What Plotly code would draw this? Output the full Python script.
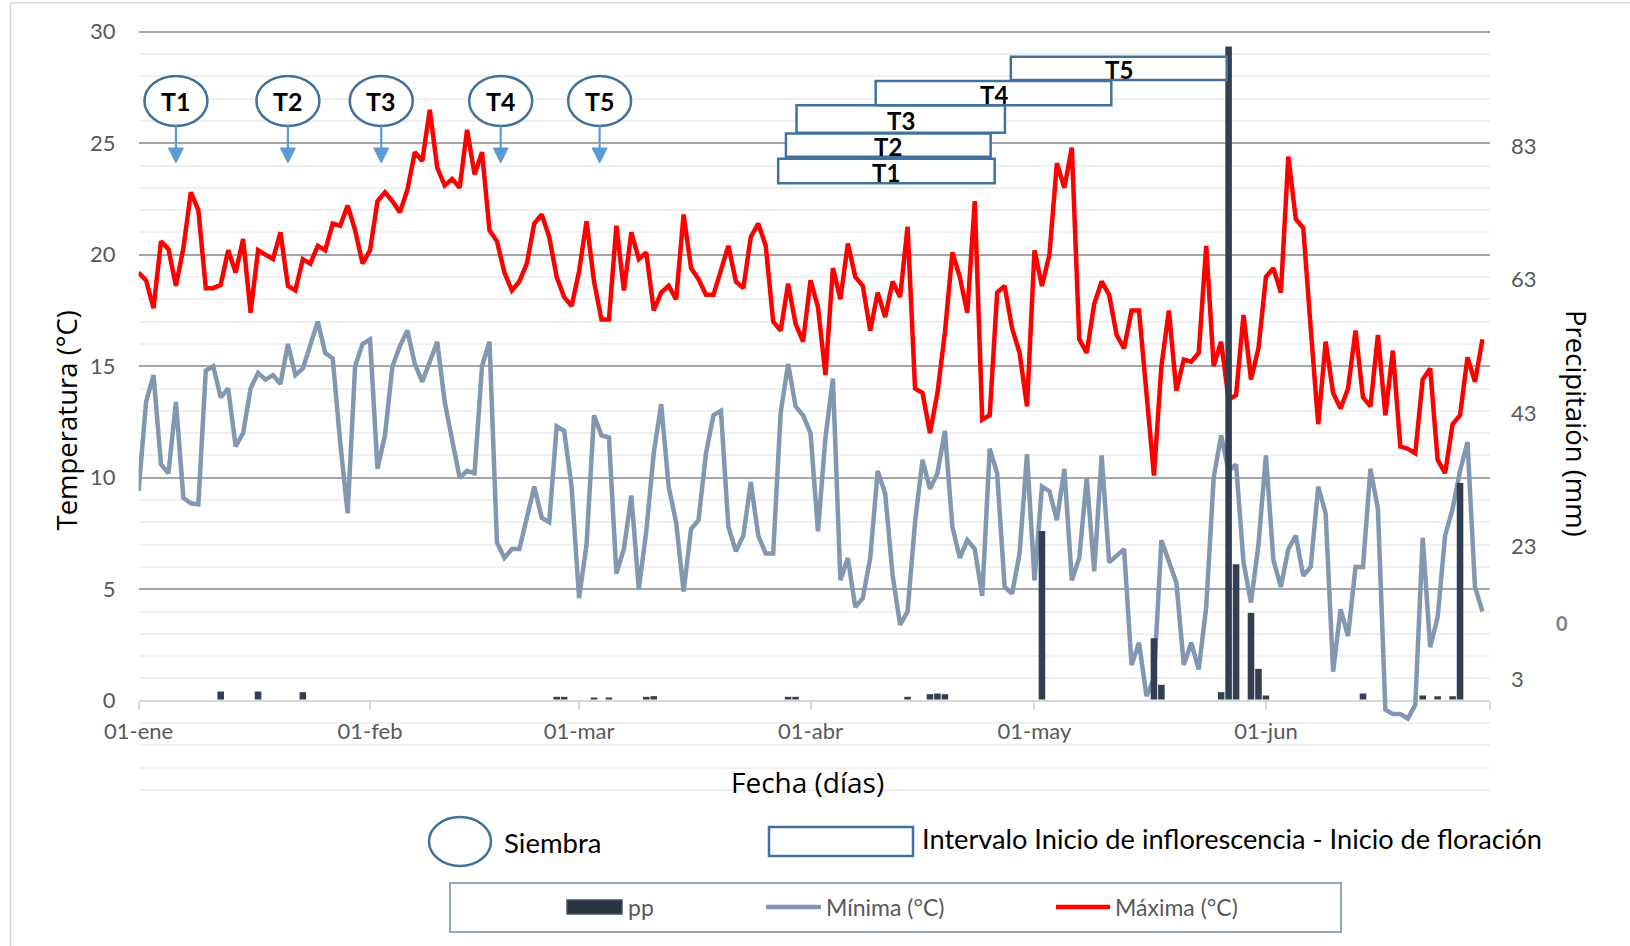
import pandas as pd
import plotly.graph_objects as go

W, H = 1630, 946

# ---------------- data ----------------
fechas = pd.date_range("2015-01-01", "2015-06-30", freq="D")

maxima_ene = [19.2, 18.85, 17.6, 20.6, 20.25, 18.6, 20.3, 22.8, 22.0, 18.5, 18.5, 18.65, 20.2, 19.2, 20.7,
              17.4, 20.2, 20.0, 19.8, 21.0, 18.6, 18.4, 19.8, 19.6, 20.4, 20.2, 21.4, 21.3, 22.2, 21.1, 19.6]
maxima_feb = [20.2, 22.4, 22.8, 22.4, 21.9, 22.9, 24.6, 24.2, 26.5, 23.9, 23.1, 23.4, 23.0, 25.6, 23.6,
              24.6, 21.1, 20.6, 19.2, 18.4, 18.8, 19.6, 21.4, 21.8, 20.8, 19.0, 18.1, 17.7]
maxima_mar = [19.25, 21.5, 18.8, 17.1, 17.1, 21.3, 18.4, 21.0, 19.8, 20.1, 17.5, 18.3, 18.6, 18.0, 21.8,
              19.4, 18.9, 18.2, 18.2, 19.3, 20.4, 18.8, 18.5, 20.8, 21.4, 20.4, 17.0, 16.6, 18.7, 16.9, 16.1]
maxima_abr = [18.85, 17.65, 14.6, 19.4, 18.0, 20.5, 19.0, 18.6, 16.6, 18.3, 17.2, 18.8, 18.1, 21.25, 14.0,
              13.8, 12.0, 13.8, 16.5, 20.1, 19.0, 17.4, 22.4, 12.6, 12.8, 18.3, 18.6, 16.7, 15.6, 13.2]
maxima_may = [20.2, 18.6, 20.0, 24.1, 23.0, 24.8, 16.2, 15.6, 17.8, 18.8, 18.2, 16.4, 15.8, 17.5, 17.5,
              13.7, 10.1, 15.0, 17.5, 13.9, 15.3, 15.2, 15.6, 20.4, 15.0, 16.1, 13.5, 13.7, 17.3, 14.4, 15.8]
maxima_jun = [19.0, 19.4, 18.3, 24.4, 21.6, 21.2, 16.7, 12.4, 16.1, 13.8, 13.1, 14.0, 16.6, 13.6, 13.2,
              16.4, 12.8, 15.7, 11.4, 11.3, 11.1, 14.4, 14.9, 10.8, 10.2, 12.4, 12.8, 15.4, 14.3, 16.2]

minima_ene = [9.4, 13.4, 14.6, 10.6, 10.2, 13.4, 9.1, 8.85, 8.8, 14.8, 15.0, 13.6, 14.0, 11.4, 12.0,
              14.0, 14.7, 14.4, 14.6, 14.2, 16.0, 14.6, 14.9, 16.0, 17.0, 15.6, 15.35, 11.6, 8.4, 15.0, 16.0]
minima_feb = [16.2, 10.4, 11.9, 15.0, 15.9, 16.6, 15.1, 14.3, 15.2, 16.1, 13.4, 11.7, 10.0, 10.3, 10.2,
              15.0, 16.1, 7.1, 6.4, 6.8, 6.8, 8.2, 9.6, 8.2, 8.0, 12.3, 12.1, 9.6]
minima_mar = [4.6, 7.0, 12.8, 11.9, 11.8, 5.7, 6.8, 9.2, 5.0, 7.6, 11.1, 13.3, 9.6, 8.0, 4.9,
              7.7, 8.1, 11.1, 12.8, 13.0, 7.8, 6.7, 7.4, 9.8, 7.4, 6.6, 6.6, 12.9, 15.1, 13.2, 12.8]
minima_abr = [12.0, 7.6, 11.8, 14.45, 5.4, 6.4, 4.2, 4.6, 6.4, 10.3, 9.3, 5.6, 3.4, 4.0, 8.0,
              10.8, 9.5, 10.2, 12.1, 7.8, 6.4, 7.2, 6.8, 4.7, 11.3, 10.2, 5.1, 4.8, 6.6, 11.05]
minima_may = [5.4, 9.6, 9.4, 8.1, 10.4, 5.4, 6.4, 10.0, 5.8, 11.0, 6.2, 6.5, 6.8, 1.6, 2.6,
              0.2, 1.0, 7.2, 6.2, 5.3, 1.6, 2.6, 1.4, 4.2, 10.0, 11.9, 10.3, 10.6, 6.2, 4.4, 7.0]
minima_jun = [11.0, 6.3, 5.1, 6.8, 7.4, 5.6, 6.0, 9.6, 8.4, 1.3, 4.1, 2.9, 6.0, 6.0, 10.4,
              8.6, -0.4, -0.6, -0.6, -0.8, -0.2, 7.3, 2.4, 3.75, 7.4, 8.6, 10.3, 11.6, 5.1, 4.0]

maxima = maxima_ene + maxima_feb + maxima_mar + maxima_abr + maxima_may + maxima_jun
minima = minima_ene + minima_feb + minima_mar + minima_abr + minima_may + minima_jun

# daily rainfall (mm); days without rain are omitted
pp_fechas = ["2015-01-12", "2015-01-17", "2015-01-23", "2015-02-26", "2015-02-27", "2015-03-03",
             "2015-03-05", "2015-03-10", "2015-03-11", "2015-03-29", "2015-03-30", "2015-04-14",
             "2015-04-17", "2015-04-18", "2015-04-19", "2015-05-02", "2015-05-17", "2015-05-18",
             "2015-05-26", "2015-05-27", "2015-05-28", "2015-05-30", "2015-05-31", "2015-06-01",
             "2015-06-14", "2015-06-22", "2015-06-24", "2015-06-26", "2015-06-27"]
pp_mm = [1.2, 1.2, 1.1, 0.4, 0.4, 0.3,
         0.3, 0.4, 0.5, 0.4, 0.4, 0.4,
         0.8, 0.9, 0.8, 25.3, 9.2, 2.2,
         1.1, 98.0, 20.3, 13.0, 4.6, 0.6,
         0.9, 0.6, 0.5, 0.5, 32.5]

tratamientos = ["T1", "T2", "T3", "T4", "T5"]
siembra = ["2015-01-06", "2015-01-21", "2015-02-02 12:00", "2015-02-18 12:00", "2015-03-03 18:00"]
inflorescencia_inicio = ["2015-03-27 16:00", "2015-03-28 17:00", "2015-03-30 03:00",
                         "2015-04-09 17:30", "2015-04-27 20:00"]
floracion_inicio = ["2015-04-25 16:00", "2015-04-25 03:00", "2015-04-27 01:00",
                    "2015-05-11 07:00", "2015-05-26 18:00"]

x_tickvals = ["2015-01-01", "2015-02-01", "2015-03-01", "2015-04-01", "2015-05-01", "2015-06-01", "2015-07-01"]
x_ticktext = ["01-ene", "01-feb", "01-mar", "01-abr", "01-may", "01-jun", ""]
pp_tickvals = [3, 23, 43, 63, 83]

# ---------------- geometry ----------------
PX_LEFT, PX_RIGHT = 138.6, 1489.9      # plot area, horizontal pixels
T0_PX, PX_PER_C = 700.7, 22.3           # 0 °C row and scale
MM0_PX, PX_PER_MM = 699.5, 6.6625       # 0 mm row and scale
T_MIN, T_MAX = -4.05, 30.05

def t_px(t):
    return T0_PX - PX_PER_C * t

top_px, bot_px = t_px(T_MAX), t_px(T_MIN)
mm_range = [(MM0_PX - bot_px) / PX_PER_MM, (MM0_PX - top_px) / PX_PER_MM]

def fx(x):
    return x / W

def fy(y):
    return 1 - y / H

BLUE_EDGE = "#41719C"
ARROW = "#5B9BD5"
GRAY_TXT = "#595959"
TICK_FONT = dict(family="Lato", size=22, color=GRAY_TXT)

fig = go.Figure()
fig.add_trace(go.Scatter(x=fechas, y=minima, mode="lines", name="Mínima (°C)",
                         line=dict(color="#8497B0", width=4.5)))
fig.add_trace(go.Scatter(x=fechas, y=maxima, mode="lines", name="Máxima (°C)",
                         line=dict(color="#FF0000", width=4.5)))
fig.add_trace(go.Bar(x=pd.to_datetime(pp_fechas), y=pp_mm, name="pp", yaxis="y2",
                     width=0.88 * 86400000, marker=dict(color="#333F50", line=dict(width=0))))

fig.update_layout(
    width=W, height=H, margin=dict(l=0, r=0, t=0, b=0, autoexpand=False),
    paper_bgcolor="white", plot_bgcolor="white", showlegend=False,
    xaxis=dict(type="date", domain=[fx(PX_LEFT), fx(PX_RIGHT)], automargin=False,
               range=["2015-01-01", "2015-07-01"],
               tickmode="array", tickvals=x_tickvals, ticktext=x_ticktext,
               ticks="outside", ticklen=8, tickwidth=2, tickcolor="#D9D9D9",
               showgrid=False, showline=False, zeroline=False,
               anchor="free", position=fy(T0_PX),
               tickfont=TICK_FONT, ticklabelstandoff=3),
    yaxis=dict(domain=[fy(bot_px), fy(top_px)], range=[T_MIN, T_MAX], automargin=False,
               tickmode="linear", tick0=0, dtick=5,
               showgrid=True, gridcolor="#A6A6A6", gridwidth=2,
               zeroline=True, zerolinecolor="#D9D9D9", zerolinewidth=2,
               minor=dict(tickmode="linear", tick0=0, dtick=1, showgrid=True,
                          gridcolor="#F0F0F0", gridwidth=2, ticks=""),
               ticks="", showline=False, tickfont=TICK_FONT, ticklabelstandoff=22),
    yaxis2=dict(overlaying="y", side="right", range=mm_range, automargin=False,
                tickmode="array", tickvals=pp_tickvals,
                showgrid=False, zeroline=False, showline=False, ticks="",
                tickfont=TICK_FONT, ticklabelstandoff=20),
)

shapes = []
annotations = []

# sowing markers: ellipse, label and arrow
ELL_T = (T0_PX - 101) / PX_PER_C
for lab, fecha in zip(tratamientos, siembra):
    shapes.append(dict(type="circle", xref="x", yref="y", xsizemode="pixel", ysizemode="pixel",
                       xanchor=fecha, yanchor=ELL_T, x0=-31.5, x1=31.5, y0=-25, y1=25,
                       line=dict(color=BLUE_EDGE, width=2.5), fillcolor="white", layer="above"))
    shapes.append(dict(type="line", xref="x", yref="y", xsizemode="pixel", xanchor=fecha,
                       x0=0, x1=0, y0=(T0_PX - 126) / PX_PER_C, y1=(T0_PX - 150) / PX_PER_C,
                       line=dict(color=ARROW, width=2.2), layer="above"))
    y_base = (T0_PX - 148) / PX_PER_C
    y_tip = (T0_PX - 163) / PX_PER_C
    shapes.append(dict(type="path", xref="x", yref="y", xsizemode="pixel", xanchor=fecha,
                       path=f"M -7.5,{y_base} L 7.5,{y_base} L 0,{y_tip} Z",
                       fillcolor=ARROW, line=dict(color=ARROW, width=1), layer="above"))
    annotations.append(dict(x=fecha, y=ELL_T, xref="x", yref="y", text=f"<b>{lab}</b>",
                            showarrow=False, font=dict(family="Lato", size=25, color="black")))

# interval boxes: start of inflorescence to start of flowering
box_rows = [(23.20, 24.30), (24.39, 25.44), (25.47, 26.70), (26.70, 27.79), (27.83, 28.88)]
for lab, a, b, (y0, y1) in zip(tratamientos, inflorescencia_inicio, floracion_inicio, box_rows):
    shapes.append(dict(type="rect", xref="x", yref="y", x0=a, x1=b, y0=y0, y1=y1,
                       line=dict(color=BLUE_EDGE, width=2.5), fillcolor="white", layer="above"))
    ta, tb = pd.Timestamp(a), pd.Timestamp(b)
    mid = ta + (tb - ta) / 2
    annotations.append(dict(x=mid, y=(y0 + y1) / 2 - 0.05, xref="x", yref="y", text=f"<b>{lab}</b>",
                            showarrow=False, height=20, borderpad=0, valign="middle",
                            font=dict(family="Lato", size=24, color="black")))

def paper_rect(x0, y0, x1, y1, **kw):
    d = dict(type="rect", xref="paper", yref="paper", x0=fx(x0), x1=fx(x1), y0=fy(y1), y1=fy(y0))
    d.update(kw)
    return d

# chart frame (left and top edges)
shapes.append(dict(type="line", xref="paper", yref="paper", x0=fx(10.5), x1=fx(10.5), y0=0, y1=fy(2.7),
                   line=dict(color="#D9D9D9", width=1.5)))
shapes.append(dict(type="line", xref="paper", yref="paper", x0=fx(10.5), x1=1, y0=fy(2.7), y1=fy(2.7),
                   line=dict(color="#D9D9D9", width=1.5)))

# key for the drawn markers
shapes.append(dict(type="circle", xref="paper", yref="paper", x0=fx(429), x1=fx(491), y0=fy(866), y1=fy(817),
                   line=dict(color=BLUE_EDGE, width=2.5), fillcolor="white"))
shapes.append(paper_rect(769, 827, 913, 856, line=dict(color=BLUE_EDGE, width=2.5), fillcolor="white"))

# series legend box
shapes.append(paper_rect(450, 883, 1341, 932, line=dict(color="#95A5BC", width=2), fillcolor="rgba(0,0,0,0)"))
shapes.append(paper_rect(567, 900, 622, 914, line=dict(color="#44546A", width=1.5), fillcolor="#2B3340"))
shapes.append(dict(type="line", xref="paper", yref="paper", x0=fx(766), x1=fx(821), y0=fy(907), y1=fy(907),
                   line=dict(color="#8497B0", width=4.5)))
shapes.append(dict(type="line", xref="paper", yref="paper", x0=fx(1056), x1=fx(1110), y0=fy(907), y1=fy(907),
                   line=dict(color="#FF0000", width=4.5)))

def text_at(x, y, text, size, color="black", family="Lato", xanchor="center", angle=0):
    annotations.append(dict(x=fx(x), y=fy(y), xref="paper", yref="paper", text=text, showarrow=False,
                            xanchor=xanchor, yanchor="middle", textangle=angle,
                            font=dict(family=family, size=size, color=color)))

text_at(626, 907, "pp", 23, GRAY_TXT, xanchor="left")
text_at(824, 907, "Mínima (°C)", 23, GRAY_TXT, xanchor="left")
text_at(1113, 907, "Máxima (°C)", 23, GRAY_TXT, xanchor="left")
text_at(502, 842, "Siembra", 27.5, xanchor="left")
text_at(920, 838, "Intervalo Inicio de inflorescencia - Inicio de floración", 27.2, xanchor="left")

text_at(807, 782, "Fecha (días)", 28, family="Open Sans")
text_at(65.5, 421, "Temperatura (°C)", 27.5, family="Open Sans", angle=-90)
text_at(1577, 423, "Precipitaión (mm)", 27.5, family="Open Sans", angle=90)
text_at(1561.5, 623, "<b>0</b>", 20, "#7F7F7F")

fig.update_layout(shapes=shapes, annotations=annotations)
fig.write_html("out.html")
